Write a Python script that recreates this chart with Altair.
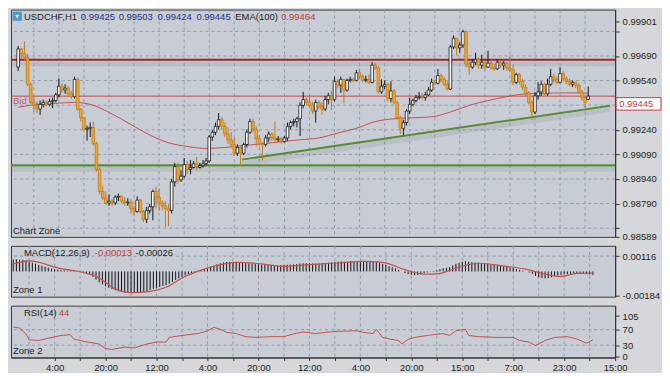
import json
import altair as alt
import pandas as pd

FONT = "Liberation Sans, Arial, sans-serif"
FS = 9.5

# ---------------- data (prices in points, 1e-5) ----------------
bars = list(range(-13, 170))
opens = [99622, 99733, 99704, 99681, 99517, 99407, 99389, 99366, 99395, 99407, 99395, 99412, 99418,
         99453, 99506, 99482, 99494, 99459, 99442, 99547, 99366, 99313, 99243,
         99249, 99255, 99155, 98998, 98864, 98823, 98794, 98805, 98794, 98829,
         98834, 98805, 98794, 98799, 98759, 98741, 98811, 98741, 98694, 98747,
         98770, 98864, 98829, 98794, 98776, 98759, 98747, 98922, 99015, 98934,
         98957, 99027, 98998, 99010, 99033, 99010, 99021, 99033, 99050, 99196,
         99225, 99261, 99301, 99261, 99214, 99179, 99150, 99097, 99132, 99097,
         99150, 99225, 99290, 99243, 99185, 99155, 99150, 99190, 99214, 99190,
         99179, 99185, 99167, 99190, 99261, 99284, 99290, 99307, 99389, 99424,
         99407, 99389, 99354, 99407, 99383, 99366, 99424, 99447, 99424, 99535,
         99512, 99547, 99482, 99541, 99547, 99541, 99587, 99564, 99541, 99547,
         99529, 99634, 99617, 99471, 99506, 99517, 99430, 99477, 99407, 99313,
         99249, 99284, 99354, 99395, 99418, 99436, 99442, 99436, 99453, 99482,
         99529, 99523, 99570, 99547, 99517, 99488, 99745, 99798, 99739, 99757,
         99838, 99640, 99622, 99652, 99669, 99634, 99652, 99622, 99646, 99617,
         99611, 99652, 99634, 99646, 99617, 99605, 99529, 99576, 99535, 99500,
         99465, 99407, 99348, 99447, 99471, 99517, 99459, 99517, 99564, 99547,
         99529, 99582, 99552, 99535, 99517, 99529, 99512, 99471, 99436, 99425]
highs = [99751, 99739, 99780, 99704, 99529, 99447, 99412, 99418, 99424, 99418, 99430, 99436, 99465,
         99552, 99523, 99517, 99506, 99477, 99564, 99558, 99371, 99313, 99266,
         99284, 99290, 99167, 99010, 98899, 98864, 98846, 98817, 98840, 98852,
         98840, 98829, 98823, 98817, 98776, 98834, 98817, 98753, 98770, 98788,
         98875, 98893, 98881, 98811, 98805, 98788, 98940, 99039, 99039, 98992,
         99068, 99050, 99056, 99050, 99074, 99039, 99056, 99068, 99208, 99237,
         99284, 99342, 99319, 99284, 99255, 99225, 99196, 99150, 99144, 99161,
         99243, 99307, 99307, 99261, 99208, 99167, 99208, 99231, 99225, 99290,
         99202, 99196, 99202, 99284, 99296, 99307, 99319, 99407, 99471, 99436,
         99453, 99412, 99424, 99418, 99407, 99447, 99465, 99477, 99564, 99547,
         99564, 99552, 99552, 99564, 99558, 99605, 99611, 99576, 99570, 99576,
         99652, 99646, 99628, 99547, 99541, 99529, 99535, 99488, 99418, 99325,
         99301, 99366, 99436, 99430, 99453, 99471, 99465, 99471, 99500, 99552,
         99547, 99611, 99582, 99564, 99535, 99757, 99815, 99798, 99774, 99850,
         99844, 99658, 99669, 99710, 99681, 99698, 99663, 99722, 99658, 99640,
         99669, 99663, 99658, 99652, 99693, 99640, 99587, 99587, 99552, 99517,
         99477, 99418, 99471, 99529, 99535, 99529, 99552, 99611, 99582, 99564,
         99622, 99599, 99564, 99552, 99541, 99535, 99523, 99482, 99447, 99503]
lows = [99599, 99669, 99663, 99506, 99395, 99348, 99342, 99331, 99377, 99383, 99383, 99371, 99407,
        99436, 99465, 99459, 99447, 99430, 99430, 99354, 99290, 99237, 99173,
        99196, 99144, 98986, 98846, 98811, 98782, 98776, 98776, 98782, 98805,
        98794, 98776, 98776, 98729, 98718, 98735, 98729, 98677, 98671, 98729,
        98688, 98759, 98747, 98747, 98648, 98653, 98729, 98893, 98910, 98922,
        98945, 98969, 98969, 99004, 98992, 99004, 99010, 99021, 99039, 99173,
        99208, 99243, 99237, 99196, 99155, 99132, 99080, 99080, 99021, 99085,
        99132, 99214, 99225, 99138, 99138, 99050, 99138, 99167, 99173, 99167,
        99167, 99155, 99161, 99173, 99243, 99261, 99255, 99202, 99371, 99389,
        99377, 99336, 99284, 99366, 99331, 99354, 99395, 99360, 99412, 99494,
        99465, 99401, 99471, 99529, 99529, 99535, 99547, 99529, 99529, 99517,
        99523, 99605, 99459, 99459, 99488, 99412, 99407, 99395, 99301, 99214,
        99208, 99266, 99336, 99383, 99407, 99424, 99424, 99418, 99447, 99471,
        99512, 99517, 99529, 99506, 99482, 99482, 99733, 99693, 99710, 99739,
        99622, 99576, 99611, 99634, 99611, 99611, 99605, 99617, 99605, 99599,
        99605, 99617, 99605, 99599, 99593, 99512, 99517, 99517, 99482, 99447,
        99395, 99301, 99336, 99424, 99447, 99442, 99447, 99506, 99529, 99517,
        99523, 99535, 99517, 99506, 99500, 99494, 99459, 99418, 99371, 99424]
closes = [99733, 99704, 99681, 99517, 99407, 99389, 99366, 99395, 99407, 99395, 99412, 99418, 99453,
          99506, 99482, 99494, 99459, 99442, 99547, 99366, 99313, 99243, 99249,
          99255, 99155, 98998, 98864, 98823, 98794, 98805, 98794, 98829, 98834,
          98805, 98794, 98799, 98759, 98741, 98811, 98741, 98694, 98747, 98770,
          98864, 98829, 98794, 98776, 98759, 98747, 98922, 99015, 98934, 98957,
          99027, 98998, 99010, 99033, 99010, 99021, 99033, 99050, 99196, 99225,
          99261, 99301, 99261, 99214, 99179, 99150, 99097, 99132, 99097, 99150,
          99225, 99290, 99243, 99185, 99155, 99150, 99190, 99214, 99190, 99179,
          99185, 99167, 99190, 99261, 99284, 99290, 99307, 99389, 99424, 99407,
          99389, 99354, 99407, 99383, 99366, 99424, 99447, 99424, 99535, 99512,
          99547, 99482, 99541, 99547, 99541, 99587, 99564, 99541, 99547, 99529,
          99634, 99617, 99471, 99506, 99517, 99430, 99477, 99407, 99313, 99249,
          99284, 99354, 99395, 99418, 99436, 99442, 99436, 99453, 99482, 99529,
          99523, 99570, 99547, 99517, 99488, 99745, 99798, 99739, 99757, 99838,
          99640, 99622, 99652, 99669, 99634, 99652, 99622, 99646, 99617, 99611,
          99652, 99634, 99646, 99617, 99605, 99529, 99576, 99535, 99500, 99465,
          99407, 99348, 99447, 99471, 99517, 99459, 99517, 99564, 99547, 99529,
          99582, 99552, 99535, 99517, 99529, 99512, 99471, 99436, 99407, 99445]

ema_bars = [-13, -7, -1, 5, 11, 17, 23, 29, 35, 41, 47, 53, 59, 65, 71, 77, 83, 89, 95, 101,
            107, 113, 119, 125, 131, 137, 143, 149, 155, 161, 169]
ema_vals = [99377, 99395, 99401, 99407, 99389, 99336, 99272, 99208, 99161, 99138,
            99126, 99132, 99144, 99155, 99167, 99179, 99190, 99220, 99249, 99290,
            99307, 99313, 99319, 99348, 99389, 99418, 99442, 99459, 99462, 99465, 99464]

resistance = 0.99667
support = 0.99023
bid = 0.99445
trend_bars = [58.5, 176]
trend_vals = [0.99058, 0.99387]

macd_hist = [90, 92, 90, 88, 84, 75, 66, 58, 50, 42, 35, 28, 22,
             18, 14, 11, 9, 7, 8, 5, 2, -2, -8,
             -15, -24, -40, -62, -82, -98, -112, -124, -134, -142,
             -150, -156, -160, -163, -165, -162, -160, -158, -155, -150,
             -140, -132, -125, -118, -110, -104, -92, -78, -64, -52,
             -40, -30, -20, -12, -5, 2, 10, 18, 28, 38,
             46, 54, 62, 68, 72, 74, 74, 72, 70, 66,
             62, 60, 58, 56, 54, 52, 50, 50, 49, 48,
             48, 48, 48, 50, 52, 54, 56, 60, 62, 62,
             62, 60, 60, 60, 62, 64, 66, 68, 72, 74,
             76, 74, 74, 76, 76, 78, 78, 78, 76, 74,
             76, 74, 66, 58, 50, 40, 32, 24, 12, 0,
             -12, -20, -26, -28, -26, -22, -16, -8, -2, 4,
             10, 18, 24, 28, 32, 46, 58, 66, 72, 78,
             74, 70, 68, 66, 62, 60, 56, 54, 50, 46,
             42, 38, 34, 30, 26, 18, 12, 6, 0, -8,
             -18, -34, -44, -50, -52, -50, -44, -36, -30, -26,
             -22, -20, -18, -16, -16, -17, -19, -21, -24, -26]
sig_bars = [-13, -8, 2, 8, 14, 19, 24, 30, 35, 40, 46, 51, 57, 65, 72, 80, 89, 97, 103, 110,
            116, 120, 127, 133, 142, 148, 154, 159, 164, 169]
sig_vals = [57, 80, 21, -2, -49, -132, -160, -151, -120, -49, 10, 45, 69, 57, 38, 52, 64, 76, 69, 14,
            -21, -19, 33, 62, 38, 17, -21, -38, -14, -13]

rsi_bars = [-13, -11, -9, -8, -5, -2, 2, 5, 6, 9, 14, 16, 18, 22, 25, 29, 32, 35, 36, 40,
            45, 48, 50, 52, 54, 57, 60, 63, 68, 72, 75, 78, 82, 85, 89, 95, 97, 100, 101, 103,
            105, 108, 109, 111, 113, 117, 122, 124, 126, 129, 130, 133, 139, 144, 146, 149, 151, 154, 157, 161,
            164, 167, 169]
rsi_vals = [77, 74, 59, 44, 42, 48, 55, 57, 46, 40, 33, 21, 19, 25, 23, 33, 38, 38, 50, 55,
            60, 67, 76, 71, 63, 60, 52, 50, 52, 52, 59, 64, 60, 63, 66, 67, 63, 60, 71, 50,
            46, 42, 33, 45, 50, 55, 60, 55, 67, 71, 55, 52, 50, 50, 42, 38, 29, 42, 50, 52,
            46, 35, 44]

time_labels = ["4:00", "20:00", "12:00", "4:00", "20:00", "12:00", "4:00", "20:00",
               "15:00", "7:00", "23:00", "15:00"]
price_ticks = [0.98589, 0.98640, 0.98790, 0.98940, 0.99090, 0.99240, 0.99390,
               0.99540, 0.99690, 0.99840, 0.99901]
price_grid = [0.98640, 0.98790, 0.98940, 0.99090, 0.99240, 0.99390, 0.99540, 0.99690, 0.99840]
grid_bars = list(range(-8, 176, 8))

# ---------------- layout / style ----------------
W, HM, H1, H2 = 606, 228, 51, 52
PANEL = "#c8cdd5"
BG = "#d5d7db"
GRID = "#939ba6"
TXT = "#1e1e1e"
NAVY = "#272f8c"
RED = "#c43a3a"

XS = alt.Scale(domain=[-13.7, 176], nice=False, zero=False)
X = alt.X("j:Q", scale=XS, axis=None)

axis_common = dict(title=None, grid=False, tickSize=4, labelFont=FONT, labelFontSize=FS,
                   labelColor=TXT, tickColor="#333333", domainColor="#333333",
                   labelPadding=3, labelFlush=False, labelOverlap=False)

hidden = "abs(datum.value-0.9864)<1e-7 || abs(datum.value-0.9939)<1e-7 || abs(datum.value-0.9984)<1e-7"
main_axis = alt.Axis(orient="right", values=price_ticks,
                     labelExpr=f"({hidden}) ? '' : format(datum.value, '.5f')", **axis_common)
YS_MAIN = alt.Scale(domain=[0.98587, 0.99973], nice=False, zero=False)


def ym(field):
    return alt.Y(f"{field}:Q", scale=YS_MAIN, axis=main_axis)


one = pd.DataFrame({"k": [0]})


def txt(s, x, y, color=TXT, size=FS, align="left", opacity=1.0):
    return alt.Chart(one).mark_text(text=s, align=align, baseline="middle", font=FONT,
                                    fontSize=size, color=color, opacity=opacity).encode(
        x=alt.value(x), y=alt.value(y))


df = pd.DataFrame({"j": bars,
                   "o": [v / 1e5 for v in opens], "h": [v / 1e5 for v in highs],
                   "l": [v / 1e5 for v in lows], "c": [v / 1e5 for v in closes]})
df["dir"] = ["up" if c >= o else "dn" for o, c in zip(df.o, df.c)]

vgrid_df = pd.DataFrame({"j": grid_bars})
vgrid = alt.Chart(vgrid_df).mark_rule(color=GRID, strokeDash=[3, 3], strokeWidth=1).encode(x=X)

hgrid = alt.Chart(pd.DataFrame({"p": price_grid})).mark_rule(
    color=GRID, strokeDash=[3, 3], strokeWidth=1).encode(y=ym("p"))


def level(val, color, width):
    d = pd.DataFrame({"p": [val]})
    shadow = alt.Chart(d).mark_rule(color="#6f7782", opacity=0.16, strokeWidth=5, yOffset=4).encode(y=ym("p"))
    line = alt.Chart(d).mark_rule(color=color, strokeWidth=width).encode(y=ym("p"))
    return shadow + line


trend_df = pd.DataFrame({"j": trend_bars, "p": trend_vals})
trend_sh = alt.Chart(trend_df).mark_line(color="#6f7782", opacity=0.16, strokeWidth=5, yOffset=4, clip=True).encode(x=X, y=ym("p"))
trend = alt.Chart(trend_df).mark_line(color="#5a8c38", strokeWidth=2, clip=True).encode(x=X, y=ym("p"))

ema_df = pd.DataFrame({"j": ema_bars, "p": [v / 1e5 for v in ema_vals]})
ema = alt.Chart(ema_df).mark_line(color="#c4504c", strokeWidth=1, interpolate="monotone").encode(x=X, y=ym("p"))

bid_df = pd.DataFrame({"p": [bid]})
bid_line = alt.Chart(bid_df).mark_rule(color="#c8484a", strokeWidth=1).encode(y=ym("p"))

wicks = alt.Chart(df).mark_rule(strokeWidth=1).encode(
    x=X, y=ym("l"), y2="h:Q",
    color=alt.Color("dir:N", scale=alt.Scale(domain=["up", "dn"], range=["#161616", "#b97a28"]), legend=None))
bodies = alt.Chart(df).mark_bar(size=2.6, strokeWidth=0.8).encode(
    x=X, y=ym("o"), y2="c:Q",
    fill=alt.Fill("dir:N", scale=alt.Scale(domain=["up", "dn"], range=["#ffffff", "#f3a52e"]), legend=None),
    stroke=alt.Stroke("dir:N", scale=alt.Scale(domain=["up", "dn"], range=["#161616", "#c07c1c"]), legend=None))

bid_box = alt.Chart(bid_df).mark_rect(fill="#ffffff", stroke="#c83c3c", strokeWidth=1,
                                      yOffset=1.5, y2Offset=14).encode(
    x=alt.value(W + 1), x2=alt.value(W + 46), y=ym("p"), y2="p:Q")
bid_txt = alt.Chart(bid_df).mark_text(text="0.99445", align="left", baseline="middle", font=FONT,
                                      fontSize=FS, color=RED, yOffset=8).encode(x=alt.value(W + 4), y=ym("p"))

icon = alt.Chart(one).mark_rect(fill="#4f9ad6", stroke="#3b7fbf", strokeWidth=0.5).encode(
    x=alt.value(2), x2=alt.value(10.5), y=alt.value(2.5), y2=alt.value(11))
icon_arrow = alt.Chart(one).mark_point(shape="triangle-down", filled=True, color="#ffffff", size=14, opacity=1).encode(
    x=alt.value(6.2), y=alt.value(7))

main = alt.layer(
    vgrid, hgrid,
    level(resistance, "#9e2626", 2.2),
    level(support, "#5a8c38", 2.2),
    trend_sh, trend, ema, bid_line,
    wicks, bodies,
    bid_box, bid_txt,
    icon, icon_arrow,
    txt("USDCHF,H1", 13, 7), txt("0.99425", 70, 7, NAVY), txt("0.99503", 108, 7, NAVY),
    txt("0.99424", 147, 7, NAVY), txt("0.99445", 186, 7, NAVY),
    txt("EMA(100)", 225, 7), txt("0.99464", 271, 7, RED),
    txt("Bid", 2, 92, "#c04848", opacity=0.8),
    txt("Chart Zone", 2, 222),
).properties(width=W, height=HM)

# ---------------- MACD ----------------
YS_MACD = alt.Scale(domain=[-0.00191, 0.00194], nice=False, zero=False)
macd_axis = alt.Axis(orient="right", values=[0.00116, -0.00184],
                     labelExpr="replace(format(datum.value, '.5f'), '\u2212', '-')", **axis_common)


def yd(field):
    return alt.Y(f"{field}:Q", scale=YS_MACD, axis=macd_axis)


hist_df = pd.DataFrame({"j": bars, "m": [v / 1e5 for v in macd_hist], "z": 0.0})
sig_df = pd.DataFrame({"j": sig_bars, "m": [v / 1e5 for v in sig_vals]})
macd = alt.layer(
    vgrid,
    alt.Chart(pd.DataFrame({"m": [0.00116]})).mark_rule(color=GRID, strokeDash=[3, 3]).encode(y=yd("m")),
    alt.Chart(hist_df).mark_rule(color="#141414", strokeWidth=1).encode(x=X, y=yd("z"), y2="m:Q"),
    alt.Chart(sig_df).mark_line(color="#c84e4e", strokeWidth=1.2, interpolate="monotone").encode(x=X, y=yd("m")),
    txt("MACD(12,26,9)", 13, 7), txt("-0.00013", 84, 7, RED), txt("-0.00026", 125, 7),
    txt("Zone 1", 2, 44),
).properties(width=W, height=H1)

# ---------------- RSI ----------------
YS_RSI = alt.Scale(domain=[-1.8, 132], nice=False, zero=False)
rsi_axis = alt.Axis(orient="right", values=[0, 30, 70, 105], format="d", **axis_common)
xexpr = "datum.value % 16 == 0 ? " + json.dumps(time_labels) + "[datum.value / 16] : ''"
XB = alt.X("j:Q", scale=XS, axis=alt.Axis(values=list(range(0, 177, 8)), labelExpr=xexpr, title=None,
                                            grid=False, tickSize=3, labelFont=FONT, labelFontSize=FS,
                                            labelColor=TXT, tickColor="#333333", domainColor="#333333",
                                            labelPadding=2, labelFlush=False, labelOverlap=False))


def yr(field):
    return alt.Y(f"{field}:Q", scale=YS_RSI, axis=rsi_axis)


rsi_df = pd.DataFrame({"j": rsi_bars, "r": rsi_vals})
rsi = alt.layer(
    alt.Chart(vgrid_df).mark_rule(color=GRID, strokeDash=[3, 3], strokeWidth=1).encode(x=XB),
    alt.Chart(pd.DataFrame({"r": [30, 70]})).mark_rule(color=GRID, strokeDash=[3, 3]).encode(y=yr("r")),
    alt.Chart(rsi_df).mark_line(color="#c4504c", strokeWidth=1).encode(x=XB, y=yr("r")),
    txt("RSI(14)", 13, 7), txt("44", 48, 7, RED),
    txt("Zone 2", 2, 45),
).properties(width=W, height=H2)

chart = alt.vconcat(main, macd, rsi, spacing=3).properties(
    padding=0, background=BG
).configure_view(fill=PANEL, stroke="#3a3a3a", strokeWidth=1)

chart.save("out.html", embed_options={"renderer": "svg", "actions": False})
